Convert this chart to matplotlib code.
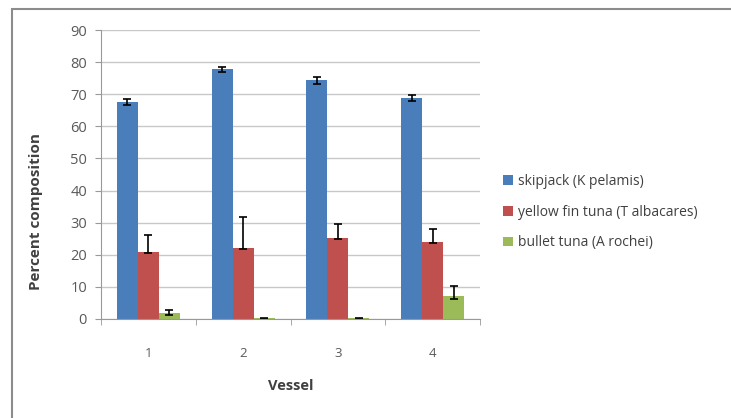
import numpy as np
import matplotlib.pyplot as plt
from matplotlib.patches import Rectangle

vessels = ["1", "2", "3", "4"]
species = ["skipjack (K pelamis)", "yellow fin tuna (T albacares)", "bullet tuna (A rochei)"]
skipjack = [67.5, 77.7, 74.4, 68.8]
skipjack_err_lo = [1.0, 0.9, 1.1, 1.0]
skipjack_err_hi = [1.0, 0.9, 1.1, 1.0]
yellowfin = [21.0, 22.0, 25.3, 24.0]
yellowfin_err_lo = [0.3, 0.3, 0.4, 0.3]
yellowfin_err_hi = [5.3, 9.7, 4.2, 3.9]
bullet = [2.0, 0.2, 0.2, 7.2]
bullet_err_lo = [0.7, 0.1, 0.1, 1.0]
bullet_err_hi = [0.7, 0.1, 0.1, 3.2]

colors = ["#4a7ebb", "#c0504d", "#9bbb59"]
text_col = "#595959"

plt.rcParams["font.family"] = ["Open Sans", "DejaVu Sans"]

fig = plt.figure(figsize=(7.31, 4.18), dpi=100)
fig.patches.append(Rectangle((12 / 731, -0.05), 1.0, 1 - 9 / 418 + 0.05,
                             transform=fig.transFigure, fill=False,
                             edgecolor="#8c8c8c", linewidth=1.5))
ax = fig.add_axes([101 / 731, 1 - 319 / 418, 379 / 731, 289 / 418])

x = np.arange(len(vessels))
w = 0.222
series = [
    (skipjack, skipjack_err_lo, skipjack_err_hi),
    (yellowfin, yellowfin_err_lo, yellowfin_err_hi),
    (bullet, bullet_err_lo, bullet_err_hi),
]
for i, (vals, lo, hi) in enumerate(series):
    ax.bar(x + (i - 1) * w, vals, w, color=colors[i], label=species[i], zorder=2,
           yerr=[lo, hi], error_kw=dict(ecolor="black", elinewidth=1.2, capsize=3, capthick=1.2))

ax.set_xlim(-0.5, 3.5)
ax.set_ylim(0, 90)
ax.set_yticks(range(0, 91, 10))
ax.set_xticks(x)
ax.set_xticklabels(vessels)
ax.set_xticks(np.arange(-0.5, 4, 1), minor=True)
ax.tick_params(axis="x", which="major", length=0, pad=20, labelsize=9.5, labelcolor=text_col)
ax.tick_params(axis="x", which="minor", length=4, color="#999999", direction="out")
ax.tick_params(axis="y", length=4, color="#999999", labelsize=10.5, labelcolor=text_col, pad=6)
ax.grid(axis="y", color="#c8c8c8", linewidth=1, zorder=0)
ax.set_axisbelow(True)
for s in ["top", "right"]:
    ax.spines[s].set_visible(False)
for s in ["left", "bottom"]:
    ax.spines[s].set_color("#999999")

ax.set_xlabel("Vessel", fontsize=10.5, fontweight="bold", color="#404040", labelpad=14)
ax.set_ylabel("Percent composition", fontsize=11, fontweight="bold", color="#404040")
ax.yaxis.set_label_coords((43 - 101) / 379, (319 - 212) / 289)

fig.legend(loc="center left", bbox_to_anchor=(503 / 731, 1 - 212 / 418), frameon=False,
           fontsize=10, handlelength=0.7, handleheight=0.7, handletextpad=0.35,
           labelspacing=1.15, labelcolor="#404040", borderaxespad=0, borderpad=0)

fig.savefig("out.png", dpi=100)
